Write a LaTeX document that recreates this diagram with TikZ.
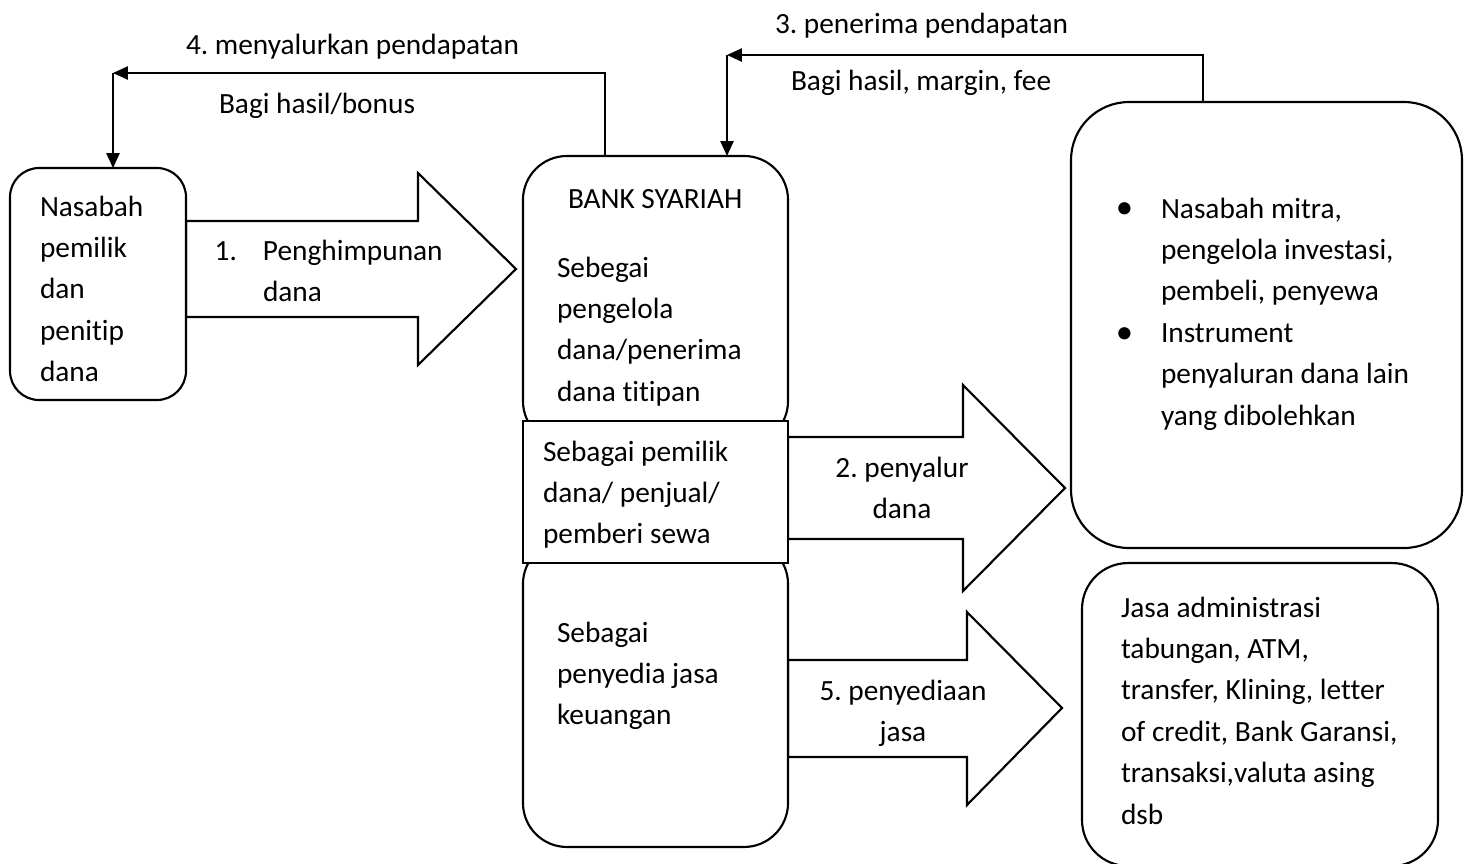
\documentclass[tikz,border=0pt]{standalone}
\usepackage{fontspec}
\setmainfont{Carlito}[Ligatures=NoCommon]
\usetikzlibrary{arrows.meta}
\frenchspacing
\newcommand\mybul{\llap{\makebox[16.9pt][l]{\fontsize{13pt}{0pt}\selectfont\raisebox{-0.3pt}{•}}}}
\begin{document}
\begin{tikzpicture}[x=0.375pt,y=-0.375pt,
  box/.style={draw, line width=0.8pt, fill=white, inner sep=0pt, outer sep=0pt},
  blk/.style={draw, line width=0.8pt, fill=white, line join=miter},
  conn/.style={draw, line width=0.5pt, -{Triangle[length=5.6pt,width=5pt]}},
  txt/.style={inner sep=0pt, outer sep=0pt, anchor=north west, align=left, font=\fontsize{11pt}{15.53pt}\selectfont\frenchspacing},
  ctxt/.style={txt, anchor=north, align=center}]
\path[fill=white,use as bounding box] (0,0) rectangle (1464,863);

% block arrows
\draw[blk] (186,221) -- (418,221) -- (418,173) -- (516,269) -- (418,365) -- (418,317) -- (186,317) -- cycle;
\draw[blk] (788,437) -- (963,437) -- (963,385) -- (1065,488) -- (963,591) -- (963,539) -- (788,539) -- cycle;
\draw[blk] (788,660) -- (967,660) -- (967,612) -- (1062,708) -- (967,805) -- (967,757) -- (788,757) -- cycle;

% boxes
\node[box, rounded corners=10.9pt, minimum width=66pt, minimum height=87pt] (nasabah) at (98,284) {};
\node[box, rounded corners=16.5pt, minimum width=99.4pt, minimum height=108.4pt] (btop) at (655.5,300.5) {};
\node[box, rounded corners=16.5pt, minimum width=99.4pt, minimum height=115.1pt] (bbot) at (655.5,693.5) {};
\node[box, minimum width=99.4pt, minimum height=53.25pt] (bmid) at (655.5,492) {};
\node[box, rounded corners=21.75pt, minimum width=146.6pt, minimum height=167.25pt] (mitra) at (1266.5,325) {};
\node[box, rounded corners=17.25pt, minimum width=133.5pt, minimum height=113.6pt] (layan) at (1260,714.5) {};

% connectors
\coordinate (k4) at (113,73);
\coordinate (s4) at (605,0);
\draw[conn] (btop.north -| s4) |- (k4);
\draw[conn] (k4) -- (nasabah.north -| k4);
\coordinate (k3) at (727,55);
\coordinate (s3) at (1203,0);
\draw[conn] (mitra.north -| s3) |- (k3);
\draw[conn] (k3) -- (btop.north -| k3);

% texts
\node[txt] (tnas) at (40,187) {\strut Nasabah\\pemilik\\dan\\penitip\\dana};
\node[txt] (t1) at (263,231) {\strut\llap{1.\hspace{9.75pt}}Penghimpunan\\dana};
\node[txt] (tbank) at (568,179) {\strut BANK SYARIAH};
\node[txt] (tkelola) at (557,248) {\strut Sebegai\\pengelola\\dana/penerima\\dana titipan};
\node[txt] (tpemilik) at (543,432) {\strut Sebagai pemilik\\dana/ penjual/\\pemberi sewa};
\node[txt] (tjasa) at (557,613) {\strut Sebagai\\penyedia jasa\\keuangan};
\node[ctxt] (t2) at (902,448) {\strut 2. penyalur\\dana};
\node[ctxt] (t5) at (903,671) {\strut 5. penyediaan\\jasa};
\node[txt] (tmitra) at (1161,189) {\strut\mybul Nasabah mitra,\\pengelola investasi,\\pembeli, penyewa\\\mybul Instrument\\penyaluran dana lain\\yang dibolehkan};
\node[txt] (tlayan) at (1121,588) {\strut Jasa administrasi\\tabungan, ATM,\\transfer, Klining, letter\\of credit, Bank Garansi,\\transaksi,valuta asing\\dsb};
\node[txt] (tlab4) at (186,25) {\strut 4. menyalurkan pendapatan};
\node[txt] (tbagi4) at (219,84) {\strut Bagi hasil/bonus};
\node[txt] (tlab3) at (775,5) {\strut 3. penerima pendapatan};
\node[txt] (tbagi3) at (791,61) {\strut Bagi hasil, margin, fee};
\end{tikzpicture}
\end{document}
